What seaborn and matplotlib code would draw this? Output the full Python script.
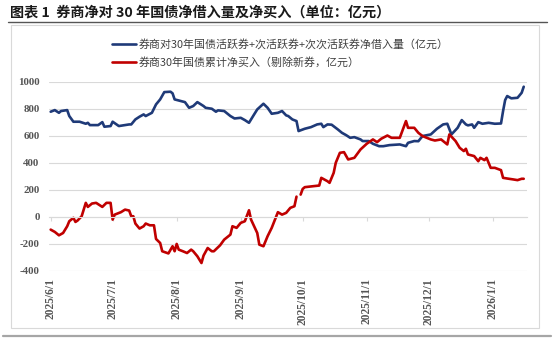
import numpy as np
import pandas as pd
import matplotlib
matplotlib.use("Agg")
import matplotlib.pyplot as plt
from matplotlib.lines import Line2D
from matplotlib.patches import Rectangle
import seaborn as sns

# ---------------- data ----------------
blue_dates = ["2025-06-01","2025-06-03","2025-06-05","2025-06-06","2025-06-09","2025-06-10","2025-06-12",
    "2025-06-15","2025-06-18","2025-06-19","2025-06-20","2025-06-24","2025-06-26","2025-06-27","2025-06-30",
    "2025-07-01","2025-07-04","2025-07-09","2025-07-10","2025-07-12","2025-07-14","2025-07-16","2025-07-17",
    "2025-07-20","2025-07-22","2025-07-24","2025-07-26","2025-07-29","2025-07-30","2025-07-31","2025-08-03",
    "2025-08-05","2025-08-07","2025-08-09","2025-08-11","2025-08-14","2025-08-15","2025-08-18","2025-08-20",
    "2025-08-21","2025-08-24","2025-08-27","2025-08-29","2025-09-01","2025-09-03","2025-09-05","2025-09-07",
    "2025-09-09","2025-09-12","2025-09-14","2025-09-16","2025-09-19","2025-09-21","2025-09-23","2025-09-24",
    "2025-09-26","2025-09-28","2025-09-29","2025-10-02","2025-10-05","2025-10-08","2025-10-10","2025-10-11",
    "2025-10-13","2025-10-15","2025-10-18","2025-10-20","2025-10-22","2025-10-24","2025-10-26","2025-10-29",
    "2025-10-30","2025-11-02","2025-11-04","2025-11-07","2025-11-09","2025-11-12","2025-11-17","2025-11-20",
    "2025-11-21","2025-11-24","2025-11-26","2025-11-28","2025-12-02","2025-12-05","2025-12-08","2025-12-10",
    "2025-12-12","2025-12-15","2025-12-17","2025-12-19","2025-12-20","2025-12-22","2025-12-23","2025-12-25",
    "2025-12-27","2025-12-30","2026-01-02","2026-01-05","2026-01-06","2026-01-07","2026-01-08","2026-01-10",
    "2026-01-13","2026-01-15","2026-01-16"]
blue_values = [778,790,770,783,790,746,704,
    704,689,696,679,679,701,667,672,
    704,672,684,684,721,741,758,746,
    770,832,869,923,926,914,869,857,
    849,807,820,849,820,807,800,778,
    788,783,746,728,733,716,696,746,
    795,837,807,763,770,783,751,746,
    721,709,635,652,664,684,689,664,
    684,682,647,622,605,585,590,573,
    561,561,541,523,523,531,536,523,
    548,561,560,598,610,652,684,689,
    610,659,716,684,677,684,659,701,
    689,696,689,691,783,864,894,877,
    881,918,963]

red_dates = ["2025-06-01","2025-06-03","2025-06-05","2025-06-07","2025-06-09","2025-06-10","2025-06-12",
    "2025-06-13","2025-06-14","2025-06-16","2025-06-18","2025-06-19","2025-06-21","2025-06-23","2025-06-25",
    "2025-06-26","2025-06-28","2025-06-30","2025-07-01","2025-07-02","2025-07-05","2025-07-07","2025-07-09",
    "2025-07-10","2025-07-11","2025-07-12","2025-07-14","2025-07-16","2025-07-17","2025-07-19","2025-07-21",
    "2025-07-22","2025-07-24","2025-07-25","2025-07-28","2025-07-30","2025-07-31","2025-08-01","2025-08-02",
    "2025-08-04","2025-08-06","2025-08-08","2025-08-09","2025-08-11","2025-08-13","2025-08-14","2025-08-16",
    "2025-08-18","2025-08-19","2025-08-22","2025-08-24","2025-08-27","2025-08-28","2025-08-30","2025-09-01",
    "2025-09-03","2025-09-05","2025-09-06","2025-09-09","2025-09-10","2025-09-12","2025-09-14","2025-09-16",
    "2025-09-19","2025-09-21","2025-09-23","2025-09-25","2025-09-27","2025-09-28","2025-09-29","2025-09-30",
    "2025-10-01","2025-10-02","2025-10-06","2025-10-09","2025-10-10","2025-10-13","2025-10-14","2025-10-16",
    "2025-10-17","2025-10-19","2025-10-21","2025-10-23","2025-10-26","2025-10-29","2025-11-01","2025-11-04",
    "2025-11-06","2025-11-08","2025-11-11","2025-11-13","2025-11-17","2025-11-20","2025-11-21","2025-11-24",
    "2025-11-26","2025-11-28","2025-12-02","2025-12-04","2025-12-07","2025-12-10","2025-12-11","2025-12-14",
    "2025-12-16","2025-12-18","2025-12-19","2025-12-20","2025-12-23","2025-12-25","2025-12-26","2025-12-28",
    "2025-12-29","2025-12-31","2026-01-02","2026-01-05","2026-01-06","2026-01-08","2026-01-11","2026-01-13",
    "2026-01-15","2026-01-16"]
red_values = [-94,-111,-136,-119,-69,-32,-7,
    -37,-27,5,104,74,99,104,84,
    74,104,104,-20,17,35,54,47,
    5,5,-49,-86,-69,-49,-62,-62,
    -163,-193,-254,-270,-217,-254,-200,-242,
    -254,-267,-242,-254,-291,-341,-286,-230,
    -254,-254,-210,-168,-131,-69,-81,-44,
    -32,49,-20,-119,-205,-217,-143,-81,
    35,17,30,67,79,150,np.nan,165,
    207,220,227,232,289,264,252,326,
    400,474,479,425,437,499,541,573,
    553,578,602,585,585,709,659,659,
    622,598,573,565,573,536,610,561,
    511,487,504,462,450,412,437,420,
    437,363,363,346,289,284,277,272,
    282,282]

series_blue = "券商对30年国债活跃券+次活跃券+次次活跃券净借入量（亿元）"
series_red = "券商30年国债累计净买入（剔除新券，亿元）"
title_text = "图表 1  券商净对 30 年国债净借入量及净买入（单位：亿元）"
y_ticks = [-400, -200, 0, 200, 400, 600, 800, 1000]
x_tick_dates = ["2025-06-01","2025-07-01","2025-08-01","2025-09-01","2025-10-01","2025-11-01","2025-12-01","2026-01-01"]
x_tick_labels = ["2025/6/1","2025/7/1","2025/8/1","2025/9/1","2025/10/1","2025/11/1","2025/12/1","2026/1/1"]

BLUE = "#1F3A78"
RED = "#C00000"

# ---------------- figure ----------------
sns.set_theme(style="white")
plt.rcParams['font.family'] = ['Noto Sans CJK SC', 'DejaVu Sans']

W, H = 554, 338
fig = plt.figure(figsize=(W / 100, H / 100), dpi=100)
fig.patch.set_facecolor("white")

def fx(px):
    return px / W

def fy(py):
    return 1 - py / H

ax_left, ax_right, ax_top, ax_bottom = 49.3, 527, 81.7, 271
ax = fig.add_axes([fx(ax_left), fy(ax_bottom), fx(ax_right - ax_left), (ax_bottom - ax_top) / H])
ax.set_facecolor("none")

df_blue = pd.DataFrame({"date": pd.to_datetime(blue_dates), "value": blue_values})
df_red = pd.DataFrame({"date": pd.to_datetime(red_dates), "value": red_values})
df_red["seg"] = df_red["value"].isna().cumsum()
df_red = df_red.dropna()

sns.lineplot(data=df_blue, x="date", y="value", ax=ax, color=BLUE, linewidth=1.9, legend=False)
sns.lineplot(data=df_red, x="date", y="value", units="seg", estimator=None, ax=ax,
             color=RED, linewidth=1.9, legend=False)

ax.set_ylim(-400, 1000)
ax.set_xlim(pd.Timestamp("2025-05-31 08:00"), pd.Timestamp("2026-01-17 14:00"))
ax.set_yticks(y_ticks)
ax.set_yticklabels([str(v) for v in y_ticks])
ax.grid(axis="y", color="#D9D9D9", linewidth=0.8)
ax.grid(axis="x", visible=False)
for s in ["top", "right", "left"]:
    ax.spines[s].set_visible(False)
ax.spines["bottom"].set_position(("data", 0))
ax.spines["bottom"].set_color("#D9D9D9")
ax.spines["bottom"].set_linewidth(0.8)
ax.set_xticks(pd.to_datetime(x_tick_dates))
ax.tick_params(axis="x", which="both", bottom=True, length=3, width=0.8, color="#D9D9D9",
               direction="out", labelbottom=False)
ax.tick_params(axis="y", length=0, pad=7, labelsize=7.8, labelcolor="#555555")
for lab in ax.get_yticklabels():
    lab.set_fontfamily(["Liberation Serif"])
    lab.set_fontweight("bold")
ax.set_xlabel("")
ax.set_ylabel("")

sec = ax.secondary_xaxis("bottom")
sec.set_xticks(pd.to_datetime(x_tick_dates))
sec.set_xticklabels(x_tick_labels, rotation=90, fontsize=8.3, color="#555555",
                    fontfamily=["Liberation Serif"], fontweight="bold")
sec.tick_params(length=0, pad=5)
sec.spines["bottom"].set_visible(False)

# legend
handles = [Line2D([], [], color=BLUE, linewidth=1.9), Line2D([], [], color=RED, linewidth=1.9)]
leg = fig.legend(handles, [series_blue, series_red], loc="upper left",
                 bbox_to_anchor=(fx(112), fy(38.5)), frameon=False, borderpad=0,
                 handlelength=2.2, handletextpad=0.25, labelspacing=0.68, fontsize=7.9,
                 borderaxespad=0)
for t in leg.get_texts():
    t.set_color("#404040")

# frame, title, rules
fig.add_artist(Rectangle((fx(11), fy(328)), fx(539 - 11), (328 - 25) / H, transform=fig.transFigure,
                         fill=False, edgecolor="#D9D9D9", linewidth=0.8))
fig.add_artist(Line2D([fx(8), fx(547)], [fy(21.5), fy(21.5)], transform=fig.transFigure,
                      color="#555555", linewidth=1.0))
fig.add_artist(Line2D([fx(3), fx(551)], [fy(335.5), fy(335.5)], transform=fig.transFigure,
                      color="#A6A6A6", linewidth=1.6))
fig.text(fx(10), fy(12), title_text, fontsize=10.2, fontweight="bold", color="#1A1A1A",
         ha="left", va="center")

fig.savefig("out.png", dpi=100, facecolor="white")
